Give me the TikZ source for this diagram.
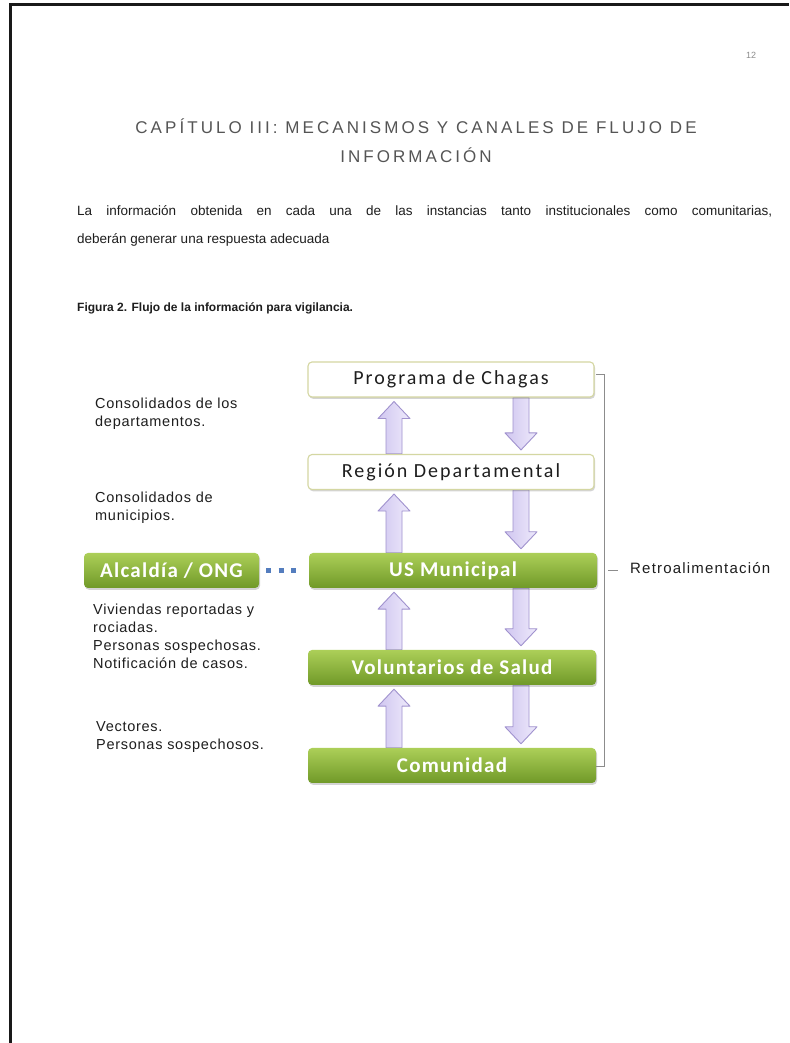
\documentclass[tikz,border=0pt]{standalone}
\usepackage{fontspec}
\setmainfont{Liberation Sans}
\newfontfamily\lblfont[LetterSpace=5]{Liberation Sans}
\newfontfamily\retrofont[LetterSpace=8]{Liberation Sans}
\newfontfamily\ttlfont[LetterSpace=18]{Liberation Sans}
\newfontfamily\boxfont[LetterSpace=10]{Carlito}
\newfontfamily\gboxfont[LetterSpace=6]{Carlito}
\usetikzlibrary{calc,shadows}
\pgfdeclarelayer{bg}
\pgfsetlayers{bg,main}
\definecolor{gtop}{RGB}{172,207,88}
\definecolor{gbot}{RGB}{112,153,40}
\definecolor{wborder}{RGB}{212,215,162}
\definecolor{lavA}{RGB}{208,198,240}
\definecolor{lavB}{RGB}{238,234,251}
\definecolor{lavline}{RGB}{160,146,206}
\definecolor{dotblue}{RGB}{84,125,190}
\definecolor{brgray}{RGB}{140,140,140}
\definecolor{ttlgray}{RGB}{85,85,85}
\definecolor{txt}{RGB}{30,30,30}
\newcommand\fatup[3]{%
  \draw[fatarrow] let \p1=(#2.north), \p2=(#3.south) in
   (#1pt-8pt,\y1) -- (#1pt-8pt,\y2-21pt) -- (#1pt-16pt,\y2-21pt) -- (#1pt,\y2-4pt)
   -- (#1pt+16pt,\y2-21pt) -- (#1pt+8pt,\y2-21pt) -- (#1pt+8pt,\y1) -- cycle;}
\newcommand\fatdown[3]{%
  \draw[fatarrow] let \p1=(#2.south), \p2=(#3.north) in
   (#1pt-8pt,\y1) -- (#1pt-8pt,\y2+21pt) -- (#1pt-16pt,\y2+21pt) -- (#1pt,\y2+4pt)
   -- (#1pt+16pt,\y2+21pt) -- (#1pt+8pt,\y2+21pt) -- (#1pt+8pt,\y1) -- cycle;}
\begin{document}
\begin{tikzpicture}[x=1pt,y=1pt,
  bshadow/.style={drop shadow={shadow xshift=1pt, shadow yshift=-1.8pt, opacity=0.28, fill=black!60}},
  wbox/.style={draw=wborder, line width=1.1pt, fill=white, rounded corners=4pt,
    minimum width=286pt, minimum height=35pt, inner sep=0pt, bshadow,
    font=\boxfont\fontsize{20}{22}\selectfont, text=txt},
  gbox/.style={rounded corners=4pt, top color=gtop, bottom color=gbot,
    minimum width=288pt, minimum height=35pt, inner sep=0pt, bshadow,
    font=\gboxfont\bfseries\fontsize{21}{24}\selectfont, text=white},
  fatarrow/.style={draw=lavline, line width=0.9pt, left color=lavA, right color=lavB, line join=round},
  lbl/.style={anchor=base west, inner sep=0pt, font=\lblfont\fontsize{14.5}{18}\selectfont, text=txt},
  body/.style={anchor=base west, inner sep=0pt, font=\fontsize{13.5}{28}\selectfont, text=txt},
  brk/.style={draw=brgray, line width=0.8pt},
  dotline/.style={draw=dotblue, line width=5pt, dash pattern=on 5pt off 7.5pt}
]
\useasboundingbox (0,0) rectangle (789,1043);
\begin{pgfonlayer}{bg}
\fill[white] (0,0) rectangle (789,1043);
\end{pgfonlayer}
% page frame
\draw[line width=3pt, black!90] (10.5,0) -- (10.5,1038.5) -- (789,1038.5);
% page number
\node[anchor=base, inner sep=0pt, font=\fontsize{9}{10}\selectfont, text=black!45] (pnum) at (751,984.5) {12};
% title
\node[anchor=base, inner sep=0pt, font=\ttlfont\fontsize{17}{29}\selectfont, text=ttlgray] (title) at (416,909.5)
  {\parbox[t]{740pt}{\centering CAPÍTULO III: MECANISMOS Y CANALES DE FLUJO DE\\INFORMACIÓN}};
% paragraph
\node[body] (para) at (77,827)
  {\parbox[t]{700pt}{\makebox[695pt][s]{La información obtenida en cada una de las instancias tanto institucionales como comunitarias,}\\deberán generar una respuesta adecuada}};
% caption
\node[anchor=base west, inner sep=0pt, font=\bfseries\fontsize{12}{14}\selectfont, text=txt] (cap) at (77,731)
  {Figura 2. Flujo de la información para vigilancia.};
% boxes
\node[wbox] (prog) at (451,663.5) {Programa de Chagas};
\node[wbox] (reg) at (451,571) {Región Departamental};
\node[gbox] (usm) at (453,472.5) {US Municipal};
\node[gbox] (vol) at (452,375.5) {Voluntarios de Salud};
\node[gbox] (com) at (452,277.5) {Comunidad};
\node[gbox, minimum width=175pt] (alc) at (171.5,472.5) {Alcaldía / ONG};
% arrows
\begin{pgfonlayer}{bg}
\fatup{394}{reg}{prog}
\fatup{394}{usm}{reg}
\fatup{394}{vol}{usm}
\fatup{394}{com}{vol}
\fatdown{521}{prog}{reg}
\fatdown{521}{reg}{usm}
\fatdown{521}{usm}{vol}
\fatdown{521}{vol}{com}
\end{pgfonlayer}
% dotted link
\draw[dotline] ($(alc.east)+(7,0)$) -- ($(usm.west)+(-13,0)$);
% left labels
\node[lbl] (l1) at (95,634) {\parbox[t]{260pt}{\raggedright Consolidados de los\\departamentos.}};
\node[lbl] (l2) at (95,540) {\parbox[t]{260pt}{\raggedright Consolidados de\\municipios.}};
\node[lbl] (l3) at (93,428) {\parbox[t]{260pt}{\raggedright Viviendas reportadas y\\rociadas.\\Personas sospechosas.\\Notificación de casos.}};
\node[lbl] (l4) at (96,311) {\parbox[t]{260pt}{\raggedright Vectores.\\Personas sospechosos.}};
% feedback bracket
\draw[brk] (596,669) -- (604,669) -- (604,277) -- (596,277);
\coordinate (dashA) at (608,473);
\node[anchor=base west, inner sep=0pt, font=\retrofont\fontsize{15}{18}\selectfont, text=txt] (retro) at (630,469) {Retroalimentación};
\draw[brk] (dashA) -- ($(retro.west|-dashA)+(-12,0)$);
\end{tikzpicture}
\end{document}
